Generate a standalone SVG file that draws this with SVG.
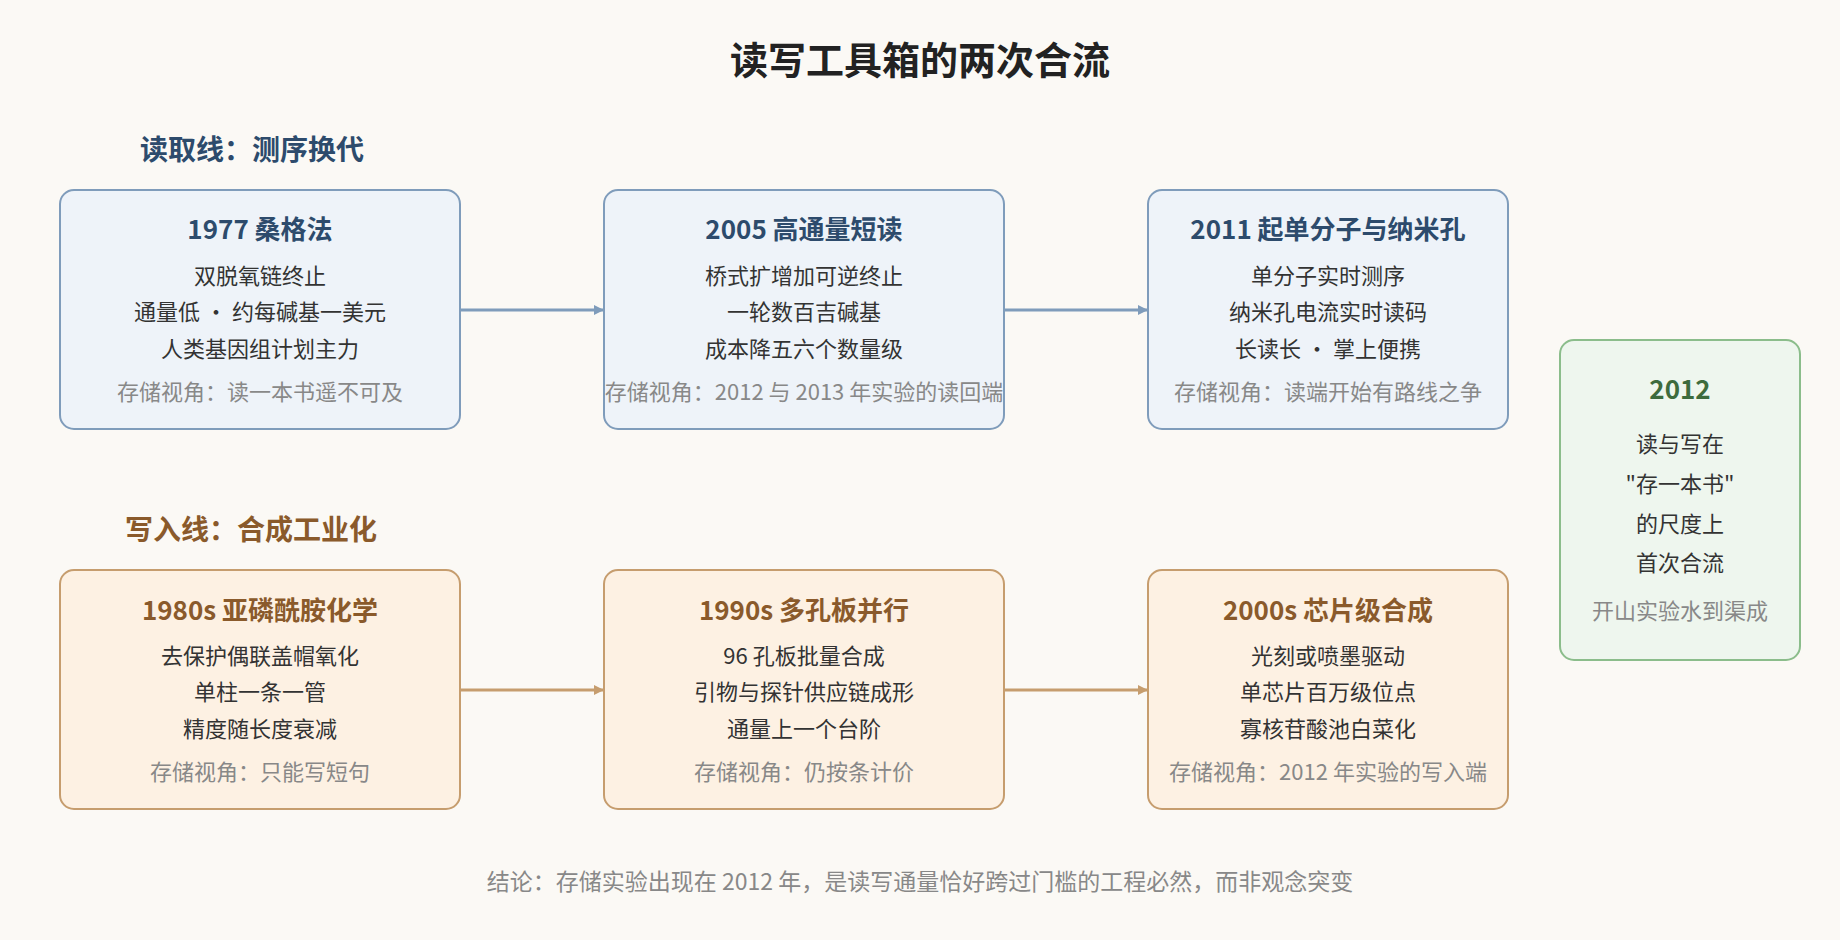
<svg xmlns="http://www.w3.org/2000/svg" width="1840" height="940" viewBox="0 0 1840 940">
<style>
text{font-family:"Noto Sans CJK SC","Noto Sans",sans-serif;text-anchor:middle}
.t{font-size:38px;font-weight:bold;fill:#222}
.sec{font-size:28px;font-weight:bold;text-anchor:start}
.rb{fill:#eef3f9;stroke:#7f9cbb;stroke-width:2}
.wb{fill:#fdf1e3;stroke:#c69d6e;stroke-width:2}
.gb{fill:#eef6ee;stroke:#8bbd8b;stroke-width:2}
.h{font-size:26px;font-weight:bold}
.rh{fill:#2d4b6c}.wh{fill:#8a5a2b}.gh{fill:#3d6b3d}
.b{font-size:22px;fill:#333}
.f{font-size:22px;fill:#888}
</style>
<defs>
<marker id="ab" markerWidth="10" markerHeight="10" refX="9" refY="5" orient="auto" markerUnits="userSpaceOnUse" viewBox="0 0 10 10"><path d="M0,0L10,5L0,10z" fill="#7f9cbb"/></marker>
<marker id="ao" markerWidth="10" markerHeight="10" refX="9" refY="5" orient="auto" markerUnits="userSpaceOnUse" viewBox="0 0 10 10"><path d="M0,0L10,5L0,10z" fill="#c69d6e"/></marker>
</defs>
<rect width="1840" height="940" fill="#fbf9f5"/>
<text x="920" y="74" class="t">读写工具箱的两次合流</text>
<text x="140" y="160" class="sec" fill="#2d4b6c">读取线：测序换代</text>
<text x="125" y="540" class="sec" fill="#8a5a2b">写入线：合成工业化</text>
<g id="connectors">
<line x1="460" y1="310" x2="603" y2="310" stroke="#7f9cbb" stroke-width="3" marker-end="url(#ab)" transform="scale(1)"/>
<line x1="1004" y1="310" x2="1147" y2="310" stroke="#7f9cbb" stroke-width="3" marker-end="url(#ab)"/>
<line x1="460" y1="690" x2="603" y2="690" stroke="#c69d6e" stroke-width="3" marker-end="url(#ao)"/>
<line x1="1004" y1="690" x2="1147" y2="690" stroke="#c69d6e" stroke-width="3" marker-end="url(#ao)"/>
</g>
<g id="r1"><rect x="60" y="190" width="400" height="239" rx="14" class="rb"/>
<text x="260" y="239" class="h rh">1977 桑格法</text>
<text x="260" y="284" class="b">双脱氧链终止</text><text x="260" y="320" class="b">通量低 · 约每碱基一美元</text><text x="260" y="357" class="b">人类基因组计划主力</text>
<text x="260" y="400" class="f">存储视角：读一本书遥不可及</text></g>
<g id="r2"><rect x="604" y="190" width="400" height="239" rx="14" class="rb"/>
<text x="804" y="239" class="h rh">2005 高通量短读</text>
<text x="804" y="284" class="b">桥式扩增加可逆终止</text><text x="804" y="320" class="b">一轮数百吉碱基</text><text x="804" y="357" class="b">成本降五六个数量级</text>
<text x="804" y="400" class="f">存储视角：2012 与 2013 年实验的读回端</text></g>
<g id="r3"><rect x="1148" y="190" width="360" height="239" rx="14" class="rb"/>
<text x="1328" y="239" class="h rh">2011 起单分子与纳米孔</text>
<text x="1328" y="284" class="b">单分子实时测序</text><text x="1328" y="320" class="b">纳米孔电流实时读码</text><text x="1328" y="357" class="b">长读长 · 掌上便携</text>
<text x="1328" y="400" class="f">存储视角：读端开始有路线之争</text></g>
<g id="w1"><rect x="60" y="570" width="400" height="239" rx="14" class="wb"/>
<text x="260" y="620" class="h wh">1980s 亚磷酰胺化学</text>
<text x="260" y="664" class="b">去保护偶联盖帽氧化</text><text x="260" y="700" class="b">单柱一条一管</text><text x="260" y="737" class="b">精度随长度衰减</text>
<text x="260" y="780" class="f">存储视角：只能写短句</text></g>
<g id="w2"><rect x="604" y="570" width="400" height="239" rx="14" class="wb"/>
<text x="804" y="620" class="h wh">1990s 多孔板并行</text>
<text x="804" y="664" class="b">96 孔板批量合成</text><text x="804" y="700" class="b">引物与探针供应链成形</text><text x="804" y="737" class="b">通量上一个台阶</text>
<text x="804" y="780" class="f">存储视角：仍按条计价</text></g>
<g id="w3"><rect x="1148" y="570" width="360" height="239" rx="14" class="wb"/>
<text x="1328" y="620" class="h wh">2000s 芯片级合成</text>
<text x="1328" y="664" class="b">光刻或喷墨驱动</text><text x="1328" y="700" class="b">单芯片百万级位点</text><text x="1328" y="737" class="b">寡核苷酸池白菜化</text>
<text x="1328" y="780" class="f">存储视角：2012 年实验的写入端</text></g>
<g id="m"><rect x="1560" y="340" width="240" height="320" rx="14" class="gb"/>
<text x="1680" y="399" class="h gh">2012</text>
<text x="1680" y="452" class="b">读与写在</text><text x="1680" y="492" class="b">"存一本书"</text><text x="1680" y="532" class="b">的尺度上</text><text x="1680" y="571" class="b">首次合流</text>
<text x="1680" y="619" class="f">开山实验水到渠成</text></g>
<text x="920" y="890" class="f" style="font-size:23px">结论：存储实验出现在 2012 年，是读写通量恰好跨过门槛的工程必然，而非观念突变</text>
</svg>
